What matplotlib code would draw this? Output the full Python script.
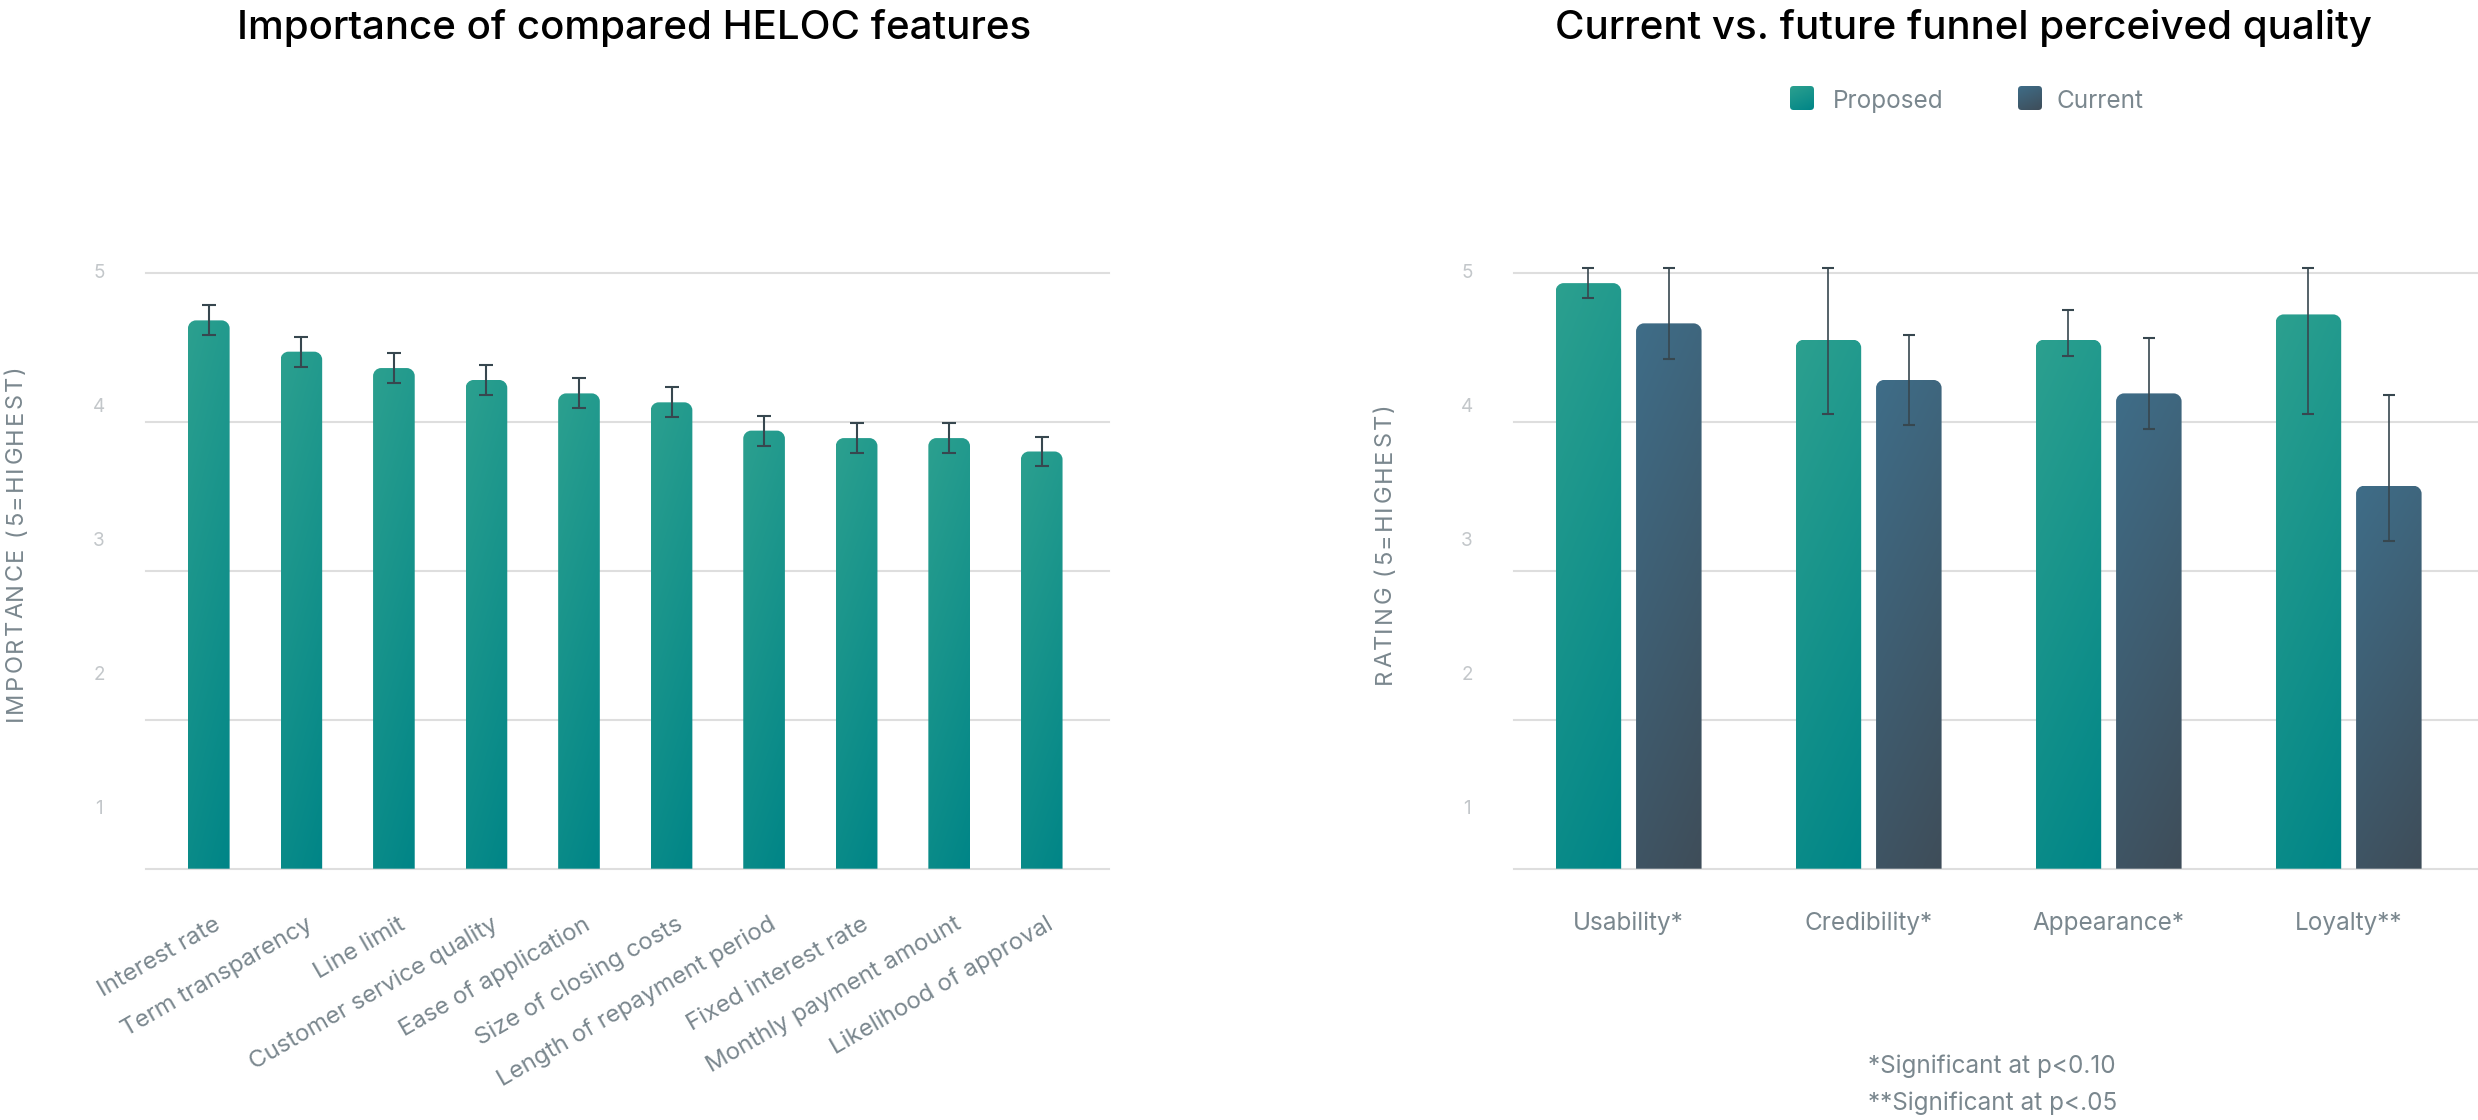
import numpy as np
import matplotlib
matplotlib.use("Agg")
import matplotlib.pyplot as plt
from matplotlib.path import Path
from matplotlib.patches import PathPatch, FancyBboxPatch
from matplotlib.transforms import ScaledTranslation

plt.rcParams['font.family'] = ['Inter', 'DejaVu Sans']

# ---------------- data ----------------
features = ["Interest rate", "Term transparency", "Line limit", "Customer service quality",
            "Ease of application", "Size of closing costs", "Length of repayment period",
            "Fixed interest rate", "Monthly payment amount", "Likelihood of approval"]
importance = [4.68, 4.47, 4.36, 4.28, 4.19, 4.13, 3.94, 3.89, 3.89, 3.80]
importance_err = [0.10, 0.10, 0.10, 0.10, 0.10, 0.10, 0.10, 0.10, 0.10, 0.10]

qualities = ["Usability*", "Credibility*", "Appearance*", "Loyalty**"]
proposed = [4.93, 4.55, 4.55, 4.72]
proposed_low = [4.83, 4.05, 4.44, 4.05]
proposed_high = [5.03, 5.03, 4.75, 5.03]
current = [4.66, 4.28, 4.19, 3.57]
current_low = [4.42, 3.98, 3.95, 3.20]
current_high = [5.03, 4.58, 4.56, 4.18]

series_names = ["Proposed", "Current"]
tick_values = [1, 2, 3, 4, 5]
footnotes = ["*Significant at p<0.10", "**Significant at p<.05"]

# ---------------- style ----------------
TEAL_TOP, TEAL_BOT = '#2CA08F', '#008587'
SLATE_TOP, SLATE_BOT = '#3F6D88', '#3E4D59'
ERR = '#37474F'
GRID = '#DEDEDE'
TICK = '#C3C7CA'
LABEL = '#7A878E'
TITLE = '#000000'

W, H = 2478, 1120
fig = plt.figure(figsize=(W / 100, H / 100), dpi=100)


def fx(px):
    return px / W


def fy(py):
    return 1 - py / H


def gradient(c_top, c_bot, n=96, diag=0.22):
    a = np.array(matplotlib.colors.to_rgb(c_top))
    b = np.array(matplotlib.colors.to_rgb(c_bot))
    v = np.linspace(0, 1, n)[:, None]
    h = np.linspace(0, 1, n)[None, :]
    t = np.clip(v * (1 - diag) + h * diag, 0, 1)
    return (1 - t)[..., None] * a + t[..., None] * b


def rounded_top_path(x0, x1, y0, y1, rx, ry):
    k = 0.5523
    ry = min(ry, (y1 - y0))
    verts = [(x0, y0), (x0, y1 - ry), (x0, y1 - ry + k * ry), (x0 + rx - k * rx, y1), (x0 + rx, y1),
             (x1 - rx, y1), (x1 - rx + k * rx, y1), (x1, y1 - ry + k * ry), (x1, y1 - ry),
             (x1, y0), (x0, y0)]
    codes = [Path.MOVETO, Path.LINETO, Path.CURVE4, Path.CURVE4, Path.CURVE4,
             Path.LINETO, Path.CURVE4, Path.CURVE4, Path.CURVE4, Path.LINETO, Path.CLOSEPOLY]
    return Path(verts, codes)


def gradient_bars(ax, bars, c_top, c_bot, r_px=8):
    xl, yl = ax.get_xlim(), ax.get_ylim()
    p0 = ax.transData.transform((0, 0))
    p1 = ax.transData.transform((1, 1))
    sx, sy = p1[0] - p0[0], p1[1] - p0[1]
    img = gradient(c_top, c_bot)
    for b in bars:
        x0, w = b.get_x(), b.get_width()
        y1 = b.get_y() + b.get_height()
        y0 = max(b.get_y(), yl[0])
        b.set_visible(False)
        path = rounded_top_path(x0, x0 + w, y0, y1, r_px / sx, r_px / sy)
        patch = PathPatch(path, transform=ax.transData, facecolor='none', edgecolor='none')
        im = ax.imshow(img, extent=(x0, x0 + w, y0, y1), origin='upper', aspect='auto',
                       zorder=2, interpolation='bilinear')
        im.set_clip_path(patch)
    ax.set_xlim(xl)
    ax.set_ylim(yl)


def base_axes(left_px, right_px, top_px=272.7, bottom_px=868.7):
    ax = fig.add_axes([fx(left_px), fy(bottom_px), (right_px - left_px) / W, (bottom_px - top_px) / H])
    ax.set_ylim(1, 5)
    for s in ax.spines.values():
        s.set_visible(False)
    ax.set_yticks([])
    ax.tick_params(axis='x', length=0)
    for v in tick_values:
        ax.axhline(v, color=GRID, lw=1.5, zorder=0, clip_on=False)
    return ax


def ytick_labels(x_px):
    # labels are evenly spaced but do not sit on gridlines (as in reference)
    for k in tick_values:
        y = 273.3 + (5 - k) * 134.05
        fig.text(fx(x_px), fy(y), str(k), ha='center', va='center', fontsize=13.6, color=TICK)


def spaced_vertical_label(text, x_px, yc_px, length_px, size):
    r = fig.canvas.get_renderer()
    prop = matplotlib.font_manager.FontProperties(family=['Inter', 'DejaVu Sans'], size=size)
    widths = [r.get_text_width_height_descent(text[:i], prop, ismath=False)[0] if i else 0.0
              for i in range(len(text) + 1)]
    natural = widths[-1]
    sp = (length_px - natural) / (len(text) - 1)
    y_start = yc_px + length_px / 2
    for i, ch in enumerate(text):
        y = y_start - (widths[i] + i * sp)
        fig.text(fx(x_px), fy(y), ch, rotation=90, rotation_mode='anchor', ha='left', va='center',
                 color=LABEL, fontproperties=prop)


# ---------------- left chart ----------------
ax1 = base_axes(146, 1109)
xs1 = np.arange(len(features))
ax1.set_xlim(-0.6786, 9.727)
bars1 = ax1.bar(xs1, importance, width=0.45)
gradient_bars(ax1, bars1, TEAL_TOP, TEAL_BOT)
eb = ax1.errorbar(xs1, importance, yerr=importance_err, fmt='none', ecolor=ERR, elinewidth=1.5,
                  capsize=4.7, capthick=1.5, zorder=4)
for art in list(eb.lines[1]) + list(eb.lines[2]):
    art.set_clip_on(False)
ax1.set_xticks(xs1)
ax1.set_xticklabels(features, rotation=30, ha='right', va='center', rotation_mode='anchor',
                    fontsize=17.3, color=LABEL)
ax1.tick_params(axis='x', pad=39)
shift = ScaledTranslation(0.10, 0, fig.dpi_scale_trans)
for lbl in ax1.get_xticklabels():
    lbl.set_transform(lbl.get_transform() + shift)
ytick_labels(99)
spaced_vertical_label("IMPORTANCE (5=HIGHEST)", 16, 543, 356, 17.0)
fig.text(fx(237), fy(38.7), "Importance of compared HELOC features", ha='left', va='baseline',
         fontsize=29, color=TITLE, fontweight='medium')

# ---------------- right chart ----------------
ax2 = base_axes(1514, 2478)
xs2 = np.arange(len(qualities))
ax2.set_xlim(-0.4775, 3.539)
off, bw = 0.1675, 0.273
bars_p = ax2.bar(xs2 - off, proposed, width=bw)
bars_c = ax2.bar(xs2 + off, current, width=bw)
gradient_bars(ax2, bars_p, TEAL_TOP, TEAL_BOT)
gradient_bars(ax2, bars_c, SLATE_TOP, SLATE_BOT)
for xs, vals, lo, hi in [(xs2 - off, proposed, proposed_low, proposed_high),
                         (xs2 + off, current, current_low, current_high)]:
    yerr = [np.array(vals) - np.array(lo), np.array(hi) - np.array(vals)]
    eb = ax2.errorbar(xs, vals, yerr=yerr, fmt='none', ecolor=ERR, elinewidth=1.2,
                      capsize=4.5, capthick=1.5, zorder=4)
    for art in list(eb.lines[1]) + list(eb.lines[2]):
        art.set_clip_on(False)
ax2.set_xticks(xs2)
ax2.set_xticklabels(qualities, fontsize=17.5, color=LABEL, va='baseline')
ax2.tick_params(axis='x', pad=44)
ytick_labels(1467)
spaced_vertical_label("RATING (5=HIGHEST)", 1385, 544, 281, 17.0)
fig.text(fx(1555), fy(38.7), "Current vs. future funnel perceived quality", ha='left',
         va='baseline', fontsize=29, color=TITLE, fontweight='medium')

# legend
for name, (top, bot), sq_x, tx in zip(series_names, [(TEAL_TOP, TEAL_BOT), (SLATE_TOP, SLATE_BOT)],
                                      [1790, 2018], [1833, 2057]):
    lax = fig.add_axes([fx(sq_x), fy(110), 24 / W, 24 / H])
    lax.set_axis_off()
    im = lax.imshow(gradient(top, bot, diag=0.3), extent=(0, 1, 0, 1), origin='upper', aspect='auto')
    clip = FancyBboxPatch((0, 0), 1, 1, boxstyle='round,pad=0,rounding_size=0.15',
                          transform=lax.transAxes, facecolor='none', edgecolor='none')
    im.set_clip_path(clip)
    lax.set_xlim(0, 1)
    lax.set_ylim(0, 1)
    fig.text(fx(tx), fy(108.3), name, ha='left', va='baseline', fontsize=17.5, color=LABEL)

# footnotes
for line, base in zip(footnotes, [1073, 1110]):
    fig.text(fx(1868), fy(base), line, ha='left', va='baseline', fontsize=17.5, color=LABEL)

fig.savefig("out.png", dpi=100, facecolor='white')
